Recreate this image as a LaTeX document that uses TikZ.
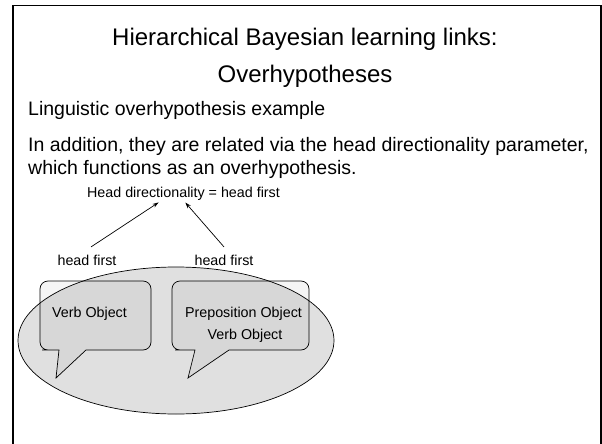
\documentclass[tikz,border=0pt]{standalone}
\usepackage{fontspec}
\setmainfont{Liberation Sans}
\usetikzlibrary{arrows.meta, positioning}

\begin{document}
\begin{tikzpicture}[x=1pt, y=-1pt,
  TT/.style  ={font=\fontsize{24}{30}\selectfont, anchor=base, inner sep=0pt},
  BD/.style  ={font=\fontsize{19.5}{24}\selectfont, anchor=base west, inner sep=0pt},
  LB/.style  ={font=\fontsize{14.3}{18}\selectfont, anchor=base, inner sep=0pt},
  HF/.style  ={font=\fontsize{14.3}{18}\selectfont, anchor=base, inner ysep=7.5pt, inner xsep=0pt},
  BB/.style  ={draw=black, fill=gray!8, line width=0.7pt},
  EL/.style  ={draw=black, fill=black, fill opacity=0.12, line width=0.7pt},
  AR/.style  ={-{Stealth[length=6pt,width=4pt]}, line width=0.7pt, shorten >=0.5pt}
]
  \clip (0,0) rectangle (602,444);
  \draw[line width=1.3pt] (13,5.5) rectangle (601,470);

  % title and text
  \node[TT] (ttl1) at (305,46)  {Hierarchical Bayesian learning links:};
  \node[TT] (ttl2) at (305,82)  {Overhypotheses};
  \node[BD] (ex)   at (28,115)  {Linguistic overhypothesis example};
  \node[BD] (add1) at (28,151)  {In addition, they are related via the head directionality parameter,};
  \node[BD] (add2) at (28,174)  {which functions as an overhypothesis.};

  % speech bubbles
  \foreach \l/\r/\s/\a/\t/\b in {40/151/50/59/56/86, 172/309/183/195/188/229}
    \draw[BB] (\s,350) -- (\a,350) -- (\t,378) -- (\b,350) -- ({\b+10},350)
      [rounded corners=8pt] -- (\r,350) -- (\r,281) -- (\l,281) -- (\l,350) -- cycle;

  % the overhypothesis ellipse
  \draw[EL] (176,340.5) ellipse [x radius=158pt, y radius=73.5pt];

  \node[LB] (vo1) at (89.5,317) {Verb Object};
  \node[LB] (po2) at (243.5,317) {Preposition Object};
  \node[LB] (vo2) at (245,339)   {Verb Object};

  % head directionality
  \node[LB, inner ysep=2pt] (hd) at (183.5,197) {Head directionality = head first};
  \node[HF] (hf1) at (87,265)  {head first};
  \node[HF] (hf2) at (224,265) {head first};

  \draw[AR] ([xshift=4pt]hf1.north) -- ([xshift=-24.5pt]hd.south);
  \draw[AR] (hf2.north) -- ([xshift=1.5pt]hd.south);
\end{tikzpicture}
\end{document}
